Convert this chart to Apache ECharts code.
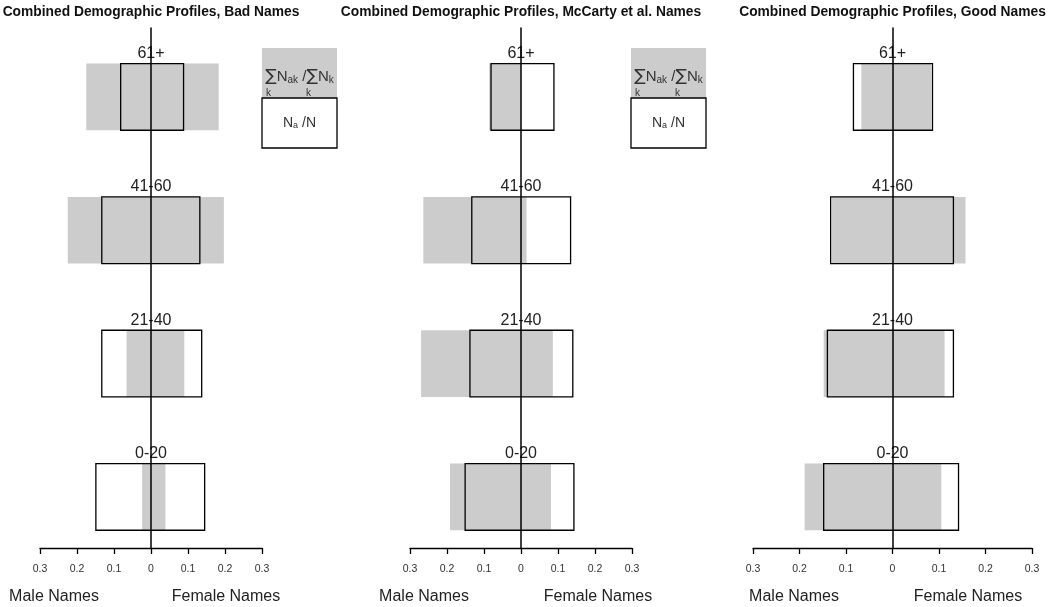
<!DOCTYPE html>
<html>
<head>
<meta charset="utf-8">
<script src="https://cdn.jsdelivr.net/npm/echarts@6/dist/echarts.min.js"></script>
<style>html,body{margin:0;padding:0;background:#fff}#c{width:1050px;height:607px}</style>
</head>
<body>
<div id="c"></div>
<script>
// Age groups (bottom to top)
var ageGroups = ['0-20', '21-40', '41-60', '61+'];
var tickValues = [-0.3, -0.2, -0.1, 0, 0.1, 0.2, 0.3];
var panelTitles = [
  'Combined Demographic Profiles, Bad Names',
  'Combined Demographic Profiles, McCarty et al. Names',
  'Combined Demographic Profiles, Good Names'
];
// Estimated profile (gray): sum_k N_ak / sum_k N_k
var badEstMale    = [0.024, 0.066, 0.225, 0.175];
var badEstFemale  = [0.039, 0.090, 0.197, 0.183];
var mcEstMale     = [0.192, 0.270, 0.264, 0.086];
var mcEstFemale   = [0.081, 0.086, 0.015, 0.000];
var goodEstMale   = [0.189, 0.148, 0.130, 0.067];
var goodEstFemale = [0.105, 0.112, 0.157, 0.083];
// Actual profile (outlined): N_a / N
var badActMale    = [0.149, 0.133, 0.133, 0.082];
var badActFemale  = [0.145, 0.137, 0.132, 0.088];
var mcActMale     = [0.151, 0.138, 0.133, 0.081];
var mcActFemale   = [0.143, 0.140, 0.134, 0.089];
var goodActMale   = [0.148, 0.140, 0.133, 0.084];
var goodActFemale = [0.142, 0.131, 0.131, 0.086];

var panels = [
  {est: [badEstMale, badEstFemale], act: [badActMale, badActFemale], left: 40, width: 222, legend: true, lx: 262, mx: 54, fx: 226},
  {est: [mcEstMale, mcEstFemale], act: [mcActMale, mcActFemale], left: 410, width: 222, legend: true, lx: 631, mx: 424, fx: 598},
  {est: [goodEstMale, goodEstFemale], act: [goodActMale, goodActFemale], left: 753, width: 279, legend: false, mx: 794, fx: 968}
];

var chart = echarts.init(document.getElementById('c'));
var GRAY = '#cccccc';
var grids = [], xAxes = [], yAxes = [], series = [], graphics = [];

function rows(m, f) {
  return ageGroups.map(function (g, i) { return [i + 1, m[i], f[i], g]; });
}

panels.forEach(function (p, k) {
  grids.push({left: p.left, width: p.width, top: 28, height: 520});
  xAxes.push({
    gridIndex: k, type: 'value', min: -0.3, max: 0.3, interval: 0.1,
    splitLine: {show: false},
    axisLine: {show: true, onZero: false, lineStyle: {color: '#000', width: 1.3}},
    axisTick: {show: true, length: 6, lineStyle: {color: '#000', width: 1.3}},
    axisLabel: {
      margin: 16, fontSize: 10.5, color: '#333', fontFamily: 'Liberation Sans',
      formatter: function (v) { var a = Math.abs(Math.round(v * 10) / 10); return a === 0 ? '0' : String(a); }
    }
  });
  yAxes.push({
    gridIndex: k, type: 'value', min: 0.617, max: 4.517, z: 6,
    splitLine: {show: false}, axisTick: {show: false}, axisLabel: {show: false},
    axisLine: {show: true, onZero: true, lineStyle: {color: '#000', width: 1.5}}
  });
  series.push({
    type: 'custom', xAxisIndex: k, yAxisIndex: k, z: 2,
    data: rows(p.est[0], p.est[1]),
    renderItem: function (params, api) {
      var a = api.coord([-api.value(1), api.value(0) + 0.25]);
      var b = api.coord([api.value(2), api.value(0) - 0.25]);
      return {type: 'rect', shape: {x: a[0], y: a[1], width: b[0] - a[0], height: b[1] - a[1]}, style: {fill: GRAY}};
    }
  });
  series.push({
    type: 'custom', xAxisIndex: k, yAxisIndex: k, z: 3,
    data: rows(p.act[0], p.act[1]),
    renderItem: function (params, api) {
      var a = api.coord([-api.value(1), api.value(0) + 0.25]);
      var b = api.coord([api.value(2), api.value(0) - 0.25]);
      var c = api.coord([0, api.value(0) + 0.25]);
      return {type: 'group', children: [
        {type: 'rect', shape: {x: a[0], y: a[1], width: b[0] - a[0], height: b[1] - a[1]},
         style: {fill: 'none', stroke: '#000', lineWidth: 1.3}},
        {type: 'text', x: c[0], y: c[1] - 2,
         style: {text: ageGroups[params.dataIndex], textAlign: 'center', textVerticalAlign: 'bottom',
                 fontSize: 16, fontFamily: 'Liberation Sans', fill: '#222'}}
      ]};
    }
  });
  var cx = p.left + p.width / 2;
  graphics.push({type: 'text', x: cx, y: 12, style: {text: panelTitles[k], textAlign: 'center', textVerticalAlign: 'middle',
    fontSize: 13.8, fontWeight: 'bold', fontFamily: 'Liberation Sans', fill: '#111'}});
  graphics.push({type: 'text', x: p.mx, y: 597, style: {text: 'Male Names', textAlign: 'center', textVerticalAlign: 'middle',
    fontSize: 16, fontFamily: 'Liberation Sans', fill: '#222'}});
  graphics.push({type: 'text', x: p.fx, y: 597, style: {text: 'Female Names', textAlign: 'center', textVerticalAlign: 'middle',
    fontSize: 16, fontFamily: 'Liberation Sans', fill: '#222'}});
  if (p.legend) {
    var lx = p.lx;
    graphics.push({type: 'rect', shape: {x: lx, y: 48, width: 75, height: 50}, style: {fill: GRAY}});
    graphics.push({type: 'rect', shape: {x: lx, y: 98, width: 75, height: 50}, style: {fill: '#fff', stroke: '#000', lineWidth: 1.3}});
    graphics.push({type: 'text', x: lx + 37.5, y: 77, style: {
      text: '{s|∑}{n|N}{b|ak}{n| /}{s|∑}{n|N}{b|k}', textAlign: 'center', textVerticalAlign: 'middle',
      rich: {s: {fontSize: 17, fontFamily: 'DejaVu Sans', fill: '#333'},
             n: {fontSize: 15, fontFamily: 'Liberation Sans', fill: '#333'},
             b: {fontSize: 10, fontFamily: 'Liberation Sans', fill: '#333', padding: [7, 0, 0, 0]}}
    }});
    graphics.push({type: 'text', x: lx + 4, y: 88, style: {text: 'k', fontSize: 10, fontFamily: 'Liberation Sans', fill: '#333'}});
    graphics.push({type: 'text', x: lx + 44, y: 88, style: {text: 'k', fontSize: 10, fontFamily: 'Liberation Sans', fill: '#333'}});
    graphics.push({type: 'text', x: lx + 37.5, y: 123, style: {
      text: '{n|N}{b|a}{n| /N}', textAlign: 'center', textVerticalAlign: 'middle',
      rich: {n: {fontSize: 14, fontFamily: 'Liberation Sans', fill: '#333'},
             b: {fontSize: 9, fontFamily: 'Liberation Sans', fill: '#333', padding: [6, 0, 0, 0]}}
    }});
  }
});

chart.setOption({
  animation: false,
  backgroundColor: '#fff',
  grid: grids, xAxis: xAxes, yAxis: yAxes, series: series,
  graphic: graphics
});
</script>
</body>
</html>
